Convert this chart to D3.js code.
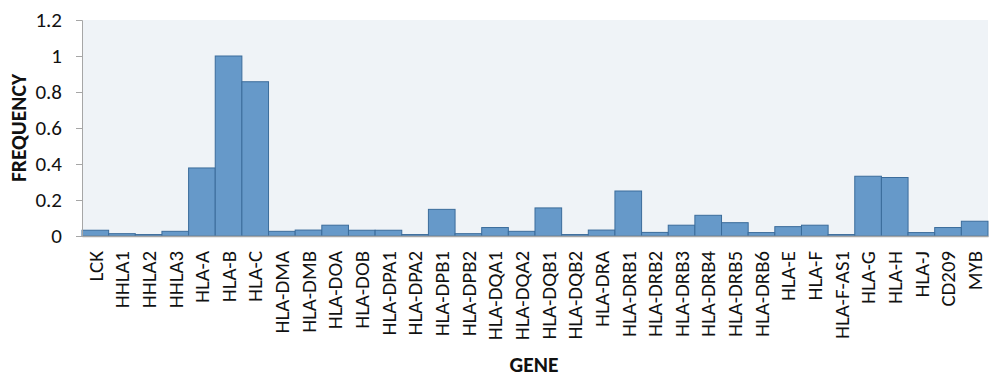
<!DOCTYPE html>
<html><head><meta charset="utf-8">
<script src="https://cdn.jsdelivr.net/npm/d3@7/dist/d3.min.js"></script>
<style>
html,body{margin:0;padding:0;background:#fff;}
svg text{font-family:Carlito, Calibri, Lato, sans-serif;fill:#111;}
</style></head>
<body>
<svg id="chart" width="1000" height="382"></svg>
<script>
const genes = ["LCK","HHLA1","HHLA2","HHLA3","HLA-A","HLA-B","HLA-C","HLA-DMA","HLA-DMB","HLA-DOA","HLA-DOB","HLA-DPA1","HLA-DPA2","HLA-DPB1","HLA-DPB2","HLA-DQA1","HLA-DQA2","HLA-DQB1","HLA-DQB2","HLA-DRA","HLA-DRB1","HLA-DRB2","HLA-DRB3","HLA-DRB4","HLA-DRB5","HLA-DRB6","HLA-E","HLA-F","HLA-F-AS1","HLA-G","HLA-H","HLA-J","CD209","MYB"];
const frequency = [0.032,0.013,0.008,0.026,0.378,1.0,0.857,0.026,0.033,0.06,0.032,0.032,0.008,0.148,0.013,0.047,0.026,0.156,0.008,0.033,0.25,0.02,0.06,0.115,0.074,0.019,0.052,0.06,0.008,0.332,0.325,0.019,0.047,0.082];
const yTicks = [0,0.2,0.4,0.6,0.8,1,1.2];

const svg = d3.select("#chart");
const m = {left:82, right:12, top:20, bottom:146};
const W = 1000, H = 382;
const x = d3.scaleBand().domain(genes).range([m.left, W - m.right]).padding(0);
const y = d3.scaleLinear().domain([0,1.2]).range([H - m.bottom, m.top]);

svg.append("rect").attr("x", m.left).attr("y", m.top)
  .attr("width", W - m.right - m.left).attr("height", y(0) - m.top)
  .attr("fill", "#eff3f7");

svg.selectAll("rect.bar").data(genes).join("rect").attr("class","bar")
  .attr("x", d => x(d)).attr("width", x.bandwidth())
  .attr("y", (d,i) => y(frequency[i])).attr("height", (d,i) => y(0) - y(frequency[i]))
  .attr("fill", "#6699c9").attr("stroke", "#3b6c9b").attr("stroke-width", 1);

// y axis
const ya = svg.append("g").attr("transform", `translate(${m.left},0)`)
  .call(d3.axisLeft(y).tickValues(yTicks).tickSize(6).tickPadding(14).tickFormat(d => d3.format("")(d)));
ya.select(".domain").attr("stroke", "#a6a6a6");
ya.selectAll(".tick line").attr("stroke", "#a6a6a6");
ya.selectAll(".tick text").attr("font-size", 21).attr("fill", "#111");

// x axis
const xa = svg.append("g").attr("transform", `translate(0,${y(0)})`)
  .call(d3.axisBottom(x).tickSize(0).tickPadding(0));
xa.select(".domain").attr("stroke", "#a6a6a6").attr("stroke-width", 1.5);
xa.selectAll(".tick text").attr("font-size", 20.8).attr("fill", "#111")
  .attr("text-anchor", "end").attr("transform", "rotate(-90)")
  .attr("x", -15).attr("y", 0).attr("dy", "0.35em");

svg.append("text").attr("transform", `translate(26,${(m.top + y(0))/2}) rotate(-90)`)
  .attr("text-anchor", "middle").attr("font-weight", "bold").attr("font-size", 21.5).text("FREQUENCY");
svg.append("text").attr("x", 534).attr("y", 372)
  .attr("text-anchor", "middle").attr("font-weight", "bold").attr("font-size", 21.5).text("GENE");
</script>
</body></html>
